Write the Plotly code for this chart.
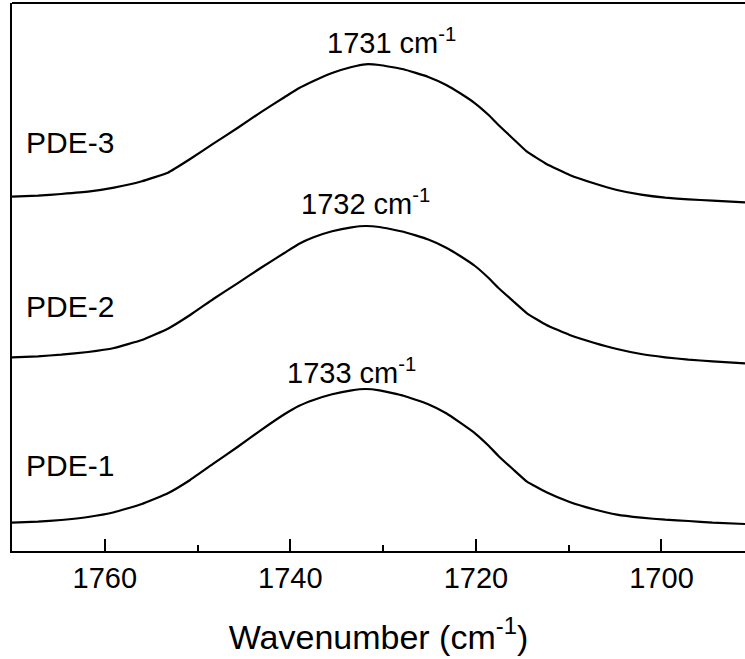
import plotly.graph_objects as go

# Wavenumber grid (cm^-1), shared by the three spectra
wavenumber = [1770.0, 1767.2, 1764.7, 1761.8, 1759.0, 1756.0, 1753.2, 1750.8,
              1748.3, 1745.7, 1743.2, 1740.6, 1739.1, 1737.5, 1735.5, 1733.4,
              1731.9, 1730.4, 1727.8, 1725.2, 1723.2, 1721.7, 1720.1, 1718.6,
              1717.6, 1716.0, 1714.5, 1712.4, 1709.9, 1707.3, 1704.8, 1702.2,
              1699.6, 1697.1, 1694.5, 1691.0]

# Absorbance (a.u., vertically offset stack)
pde1 = [0.283, 0.293, 0.310, 0.340, 0.387, 0.470, 0.577, 0.710, 0.873, 1.040,
        1.207, 1.370, 1.450, 1.510, 1.567, 1.607, 1.620, 1.607, 1.553, 1.470,
        1.377, 1.283, 1.177, 1.050, 0.953, 0.817, 0.693, 0.587, 0.490, 0.417,
        0.363, 0.333, 0.313, 0.300, 0.283, 0.270]
pde2 = [1.937, 1.947, 1.963, 1.990, 2.030, 2.110, 2.223, 2.360, 2.520, 2.677,
        2.830, 2.983, 3.070, 3.137, 3.197, 3.237, 3.250, 3.240, 3.193, 3.117,
        3.033, 2.950, 2.850, 2.727, 2.633, 2.500, 2.377, 2.260, 2.160, 2.083,
        2.020, 1.970, 1.937, 1.913, 1.897, 1.877]
pde3 = [3.543, 3.553, 3.570, 3.593, 3.633, 3.697, 3.783, 3.920, 4.073, 4.230,
        4.387, 4.540, 4.627, 4.700, 4.780, 4.840, 4.867, 4.860, 4.817, 4.743,
        4.660, 4.577, 4.477, 4.357, 4.263, 4.123, 3.993, 3.870, 3.760, 3.677,
        3.610, 3.563, 3.533, 3.517, 3.503, 3.487]

sample_names = ["PDE-1", "PDE-2", "PDE-3"]
peak_labels = ["1733 cm<sup>-1</sup>", "1732 cm<sup>-1</sup>", "1731 cm<sup>-1</sup>"]
x_ticks = [1760, 1740, 1720, 1700]

FONT = "Liberation Sans, Arial, sans-serif"

fig = go.Figure()
for name, y in zip(sample_names, [pde1, pde2, pde3]):
    fig.add_trace(go.Scatter(
        x=wavenumber, y=y, mode="lines", name=name,
        line=dict(color="black", width=2.2, shape="spline", smoothing=0.3),
        showlegend=False, hoverinfo="skip",
    ))

# sample names at the left, peak positions above each band
name_pos = [(1768.7, 0.86), (1768.7, 2.45), (1768.7, 4.09)]
peak_pos = [(1740.6, 1.80), (1739.1, 3.49), (1736.3, 5.10)]
for name, (x, y) in zip(sample_names, name_pos):
    fig.add_annotation(x=x, y=y, text=name, showarrow=False,
                       xanchor="left", yanchor="middle",
                       font=dict(family=FONT, size=30, color="black"))
for lab, (x, y) in zip(peak_labels, peak_pos):
    fig.add_annotation(x=x, y=y, text=lab, showarrow=False,
                       xanchor="left", yanchor="middle",
                       font=dict(family=FONT, size=29, color="black"))

# top frame line (right side left open)
fig.add_shape(type="line", xref="paper", yref="paper", x0=0, x1=1, y0=1, y1=1,
              line=dict(color="black", width=2))

fig.update_layout(
    width=745, height=659, autosize=False,
    margin=dict(l=12, r=0, t=3, b=108),
    paper_bgcolor="white", plot_bgcolor="white",
    font=dict(family=FONT, color="black"),
)
fig.update_xaxes(
    range=[1770, 1691], tickvals=x_ticks, ticktext=[str(v) for v in x_ticks],
    ticks="inside", ticklen=12, tickwidth=2, tickcolor="black",
    minor=dict(dtick=10, tick0=1700, ticks="inside", ticklen=6, tickwidth=2, tickcolor="black"),
    showline=True, linecolor="black", linewidth=2, mirror=False,
    showgrid=False, zeroline=False,
    tickfont=dict(family=FONT, size=29, color="black"),
    title=dict(text="Wavenumber (cm<sup>-1</sup>)",
               font=dict(family=FONT, size=34, color="black"), standoff=32),
)
fig.update_yaxes(
    range=[0, 5.48], showticklabels=False, ticks="",
    showline=True, linecolor="black", linewidth=2, mirror=False,
    showgrid=False, zeroline=False,
)

fig.write_html("out.html")
